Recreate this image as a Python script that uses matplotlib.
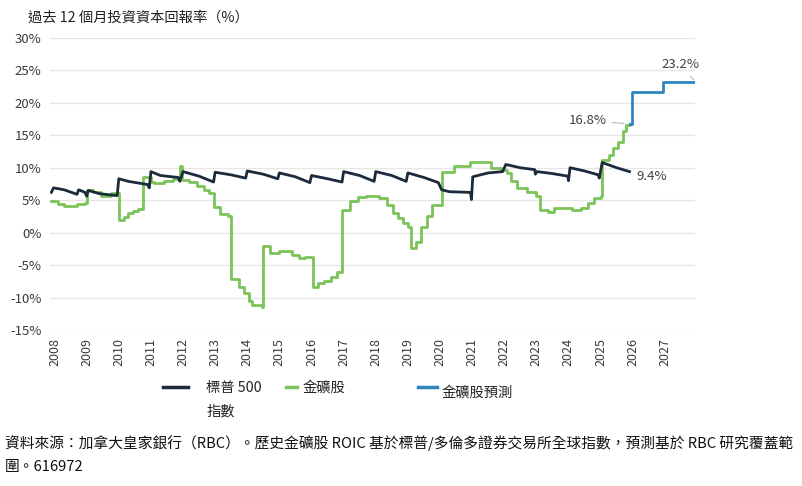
import matplotlib
matplotlib.use("Agg")
import matplotlib.pyplot as plt
from matplotlib.lines import Line2D

plt.rcParams["font.family"] = ["Noto Sans CJK TC", "DejaVu Sans"]

# ======================================================
# DATA (decimal years / percent)
# ======================================================

SP500_YEARS = [2007.9, 2007.97, 2008.3, 2008.7, 2008.75, 2008.95, 2009.0, 2009.05,
               2009.4, 2009.95, 2010.0, 2010.3, 2010.9, 2010.95, 2011.0, 2011.3,
               2011.85, 2011.9, 2012.0, 2012.5, 2012.95, 2013.0, 2013.5, 2013.95,
               2014.0, 2014.5, 2014.95, 2015.0, 2015.5, 2015.95, 2016.0, 2016.5,
               2016.95, 2017.0, 2017.5, 2017.95, 2018.0, 2018.5, 2018.95, 2019.0,
               2019.5, 2019.95, 2020.05, 2020.3, 2020.95, 2020.98, 2021.02, 2021.5,
               2021.95, 2022.05, 2022.5, 2022.95, 2022.97, 2023.02, 2023.5, 2023.98,
               2024.0, 2024.05, 2024.5, 2024.93, 2024.96, 2025.05, 2025.5, 2025.9]
SP500_ROIC = [6.2, 6.9, 6.6, 5.9, 6.6, 6.2, 5.6, 6.5,
              6.0, 5.7, 8.3, 7.9, 7.4, 6.9, 9.4, 8.8,
              8.5, 7.9, 9.4, 8.7, 7.8, 9.3, 8.9, 8.4,
              9.5, 9.0, 8.3, 9.2, 8.6, 7.7, 8.8, 8.3,
              7.8, 9.4, 8.8, 7.9, 9.4, 8.8, 7.9, 9.2,
              8.5, 7.7, 6.6, 6.3, 6.2, 5.1, 8.6, 9.2,
              9.4, 10.5, 10.0, 9.7, 9.0, 9.4, 9.1, 8.7,
              8.0, 10.0, 9.5, 8.9, 8.4, 10.8, 10.0, 9.4]

# gold miners, step levels starting at each year (rows of 6)
GOLD_YEARS = [2007.9, 2008.1, 2008.3, 2008.7, 2008.95, 2009.0,
              2009.2, 2009.45, 2009.75, 2010.0, 2010.15, 2010.3,
              2010.45, 2010.6, 2010.75, 2011.0, 2011.1, 2011.4,
              2011.7, 2011.92, 2011.98, 2012.2, 2012.45, 2012.65,
              2012.8, 2012.95, 2013.15, 2013.4, 2013.5, 2013.75,
              2013.9, 2014.05, 2014.15, 2014.45, 2014.5, 2014.7,
              2015.0, 2015.4, 2015.6, 2015.8, 2016.05, 2016.2,
              2016.4, 2016.6, 2016.8, 2016.95, 2017.2, 2017.45,
              2017.7, 2018.1, 2018.35, 2018.55, 2018.7, 2018.85,
              2019.0, 2019.1, 2019.25, 2019.4, 2019.6, 2019.75,
              2020.05, 2020.45, 2020.95, 2021.6, 2021.9, 2022.1,
              2022.2, 2022.4, 2022.7, 2023.0, 2023.1, 2023.35,
              2023.55, 2024.1, 2024.4, 2024.6, 2024.8, 2025.0,
              2025.05, 2025.25, 2025.4, 2025.55, 2025.7, 2025.8,
              2025.92]
GOLD_ROIC = [4.8, 4.4, 4.1, 4.4, 4.5, 6.6,
             6.2, 5.7, 6.1, 2.0, 2.4, 3.0,
             3.3, 3.7, 8.6, 7.8, 7.6, 7.9,
             8.2, 10.3, 8.1, 7.8, 7.2, 6.6,
             6.1, 4.0, 2.8, 2.5, -7.2, -8.3,
             -9.3, -10.6, -11.1, -11.4, -2.1, -3.1,
             -2.9, -3.4, -3.9, -3.7, -8.3, -7.7,
             -7.5, -6.8, -6.0, 3.5, 4.8, 5.5,
             5.6, 5.4, 4.3, 3.1, 2.3, 1.5,
             0.9, -2.3, -1.4, 0.9, 2.5, 4.3,
             9.4, 10.2, 10.9, 10.0, 9.7, 9.2,
             7.9, 6.9, 6.3, 5.6, 3.5, 3.2,
             3.8, 3.5, 3.8, 4.6, 5.4, 5.6,
             11.2, 12.0, 13.1, 14.0, 15.6, 16.6,
             16.8]

FORECAST_YEARS = [2025.92, 2025.97, 2026.9, 2026.95, 2027.95]
FORECAST_ROIC = [16.8, 21.6, 21.6, 23.2, 23.2]

YEARS = list(range(2008, 2028))
Y_TICKS = [30, 25, 20, 15, 10, 5, 0, -5, -10, -15]

NAVY = "#1c2b3b"
GREEN = "#7cc35a"
BLUE = "#2f86bf"

# ======================================================
# PLOT
# ======================================================

fig = plt.figure(figsize=(8.02, 4.86), dpi=100)
ax = fig.add_axes([0.062, 0.321, 0.805, 0.601])

ax.plot(SP500_YEARS, SP500_ROIC, color=NAVY, lw=2, zorder=3)
ax.plot(GOLD_YEARS, GOLD_ROIC, color=GREEN, lw=2, drawstyle="steps-post", zorder=2)
ax.plot(FORECAST_YEARS, FORECAST_ROIC, color=BLUE, lw=2, drawstyle="steps-post", zorder=2)

ax.set_xlim(2007.85, 2027.95)
ax.set_ylim(-15, 30)

ax.set_yticks(Y_TICKS)
ax.set_yticklabels([f"{v}%" for v in Y_TICKS], fontsize=9.5, color="#3a3a3a")
ax.set_xticks(YEARS)
ax.set_xticklabels([str(y) for y in YEARS], rotation=90, fontsize=9, color="#3a3a3a")
ax.tick_params(length=0, pad=6)

ax.grid(axis="y", color="#e6e6e6", lw=1)
ax.set_axisbelow(True)
for s in ax.spines.values():
    s.set_visible(False)

# ------------------------------------------------------
# END-POINT LABELS
# ------------------------------------------------------
ann = dict(fontsize=9.5, color="#404040")
ax.annotate(f"{FORECAST_ROIC[-1]:.1f}%", xy=(FORECAST_YEARS[-1], FORECAST_ROIC[-1]),
            xytext=(2027.5, 25.9), ha="center", va="center",
            arrowprops=dict(arrowstyle="-", color="#bbbbbb", lw=0.8), **ann)
ax.annotate(f"{GOLD_ROIC[-1]:.1f}%", xy=(GOLD_YEARS[-1] - 0.1, GOLD_ROIC[-1]),
            xytext=(2024.6, 17.2), ha="center", va="center",
            arrowprops=dict(arrowstyle="-", color="#bbbbbb", lw=0.8), **ann)
ax.text(2026.6, SP500_ROIC[-1] - 0.8, f"{SP500_ROIC[-1]:.1f}%", ha="center", va="center", **ann)

# ------------------------------------------------------
# TITLE / LEGEND / SOURCE
# ------------------------------------------------------
fig.text(0.035, 0.963, "過去 12 個月投資資本回報率（%）", fontsize=10.3, color="#222222",
         ha="left", va="center")

legend_items = [
    (NAVY, 0.203, 0.234, 0.257, "標普 500\n指數", 0.0),
    (GREEN, 0.357, 0.370, 0.377, "金礦股", 0.0),
    (BLUE, 0.521, 0.545, 0.550, "金礦股預測", 0.010),
]
ly = 1 - 387 / 486
for col, x0, x1, tx, lab, dy in legend_items:
    fig.add_artist(Line2D([x0, x1], [ly, ly], transform=fig.transFigure, color=col, lw=2.5))
    fig.text(tx, ly + 0.013 - dy, lab, fontsize=10.3, color="#222222", ha="left", va="top",
             linespacing=1.9)

fig.text(0.006, 1 - 443 / 486,
         "資料來源：加拿大皇家銀行（RBC）。歷史金礦股 ROIC 基於標普/多倫多證券交易所全球指數，預測基於 RBC 研究覆蓋範",
         fontsize=10.6, color="#111111", ha="left", va="center")
fig.text(0.006, 1 - 467 / 486, "圍。616972", fontsize=10.6, color="#111111", ha="left", va="center")

fig.savefig("out.png", dpi=100)
